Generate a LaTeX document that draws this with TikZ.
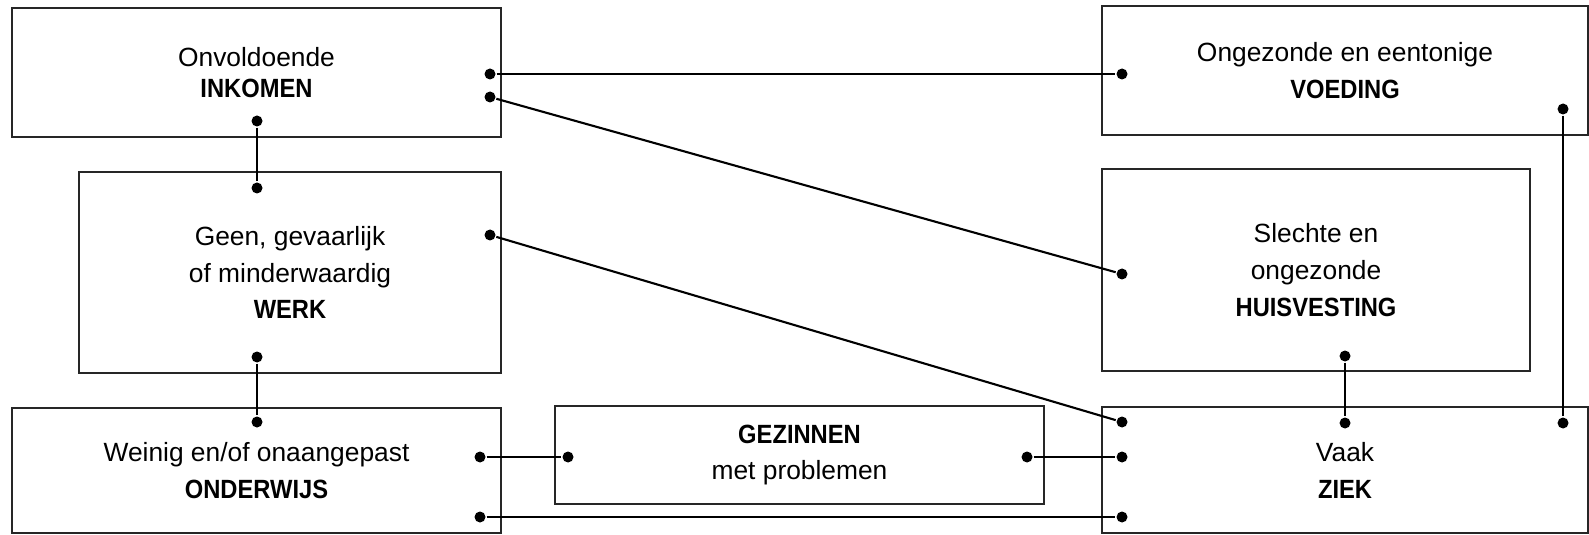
\documentclass[tikz,border=0pt]{standalone}
\usepackage{fontspec}
\setmainfont{Liberation Sans}[BoldFeatures={FakeStretch=0.9}]
\begin{document}
\begin{tikzpicture}[line width=0.6pt,
                    box/.style={rectangle,draw=black!85,align=center,inner sep=0pt,
                                font=\fontsize{7.5}{10.5}\selectfont},
                    dot/.style={circle,fill,inner sep=0pt,minimum size=1.1mm}]

        \useasboundingbox (0,0) rectangle (15.89,5.34);

        % Define boxes
        \node[box,minimum width=4.89cm,minimum height=1.29cm,font=\fontsize{7.5}{8.6}\selectfont] (I) at (2.565,4.615) {Onvoldoende\\\textbf{INKOMEN}};
        \node[box,minimum width=4.22cm,minimum height=2.01cm] (W) at (2.90,2.615) {Geen, gevaarlijk\\of minderwaardig\\\textbf{WERK}};
        \node[box,minimum width=4.89cm,minimum height=1.25cm] (O) at (2.565,0.635) {Weinig en/of onaangepast\\\textbf{ONDERWIJS}};
        \node[box,minimum width=4.89cm,minimum height=0.98cm] (G) at (7.995,0.79) {\textbf{GEZINNEN}\\met problemen};
        \node[box,minimum width=4.86cm,minimum height=1.29cm] (V) at (13.45,4.635) {Ongezonde en eentonige\\\textbf{VOEDING}};
        \node[box,minimum width=4.28cm,minimum height=2.02cm] (H) at (13.16,2.64) {Slechte en\\ongezonde\\\textbf{HUISVESTING}};
        \node[box,minimum width=4.86cm,minimum height=1.26cm] (Z) at (13.45,0.64) {Vaak\\\textbf{ZIEK}};

        % Define dots
        \node[dot] (I1) at (4.90,4.60) {};
        \node[dot] (I2) at (4.90,4.37) {};
        \node[dot] (I3) at (2.57,4.13) {};
        \node[dot] (W1) at (2.57,3.46) {};
        \node[dot] (W2) at (4.90,2.99) {};
        \node[dot] (W3) at (2.57,1.77) {};
        \node[dot] (O1) at (2.57,1.12) {};
        \node[dot] (O2) at (4.80,0.77) {};
        \node[dot] (O3) at (4.80,0.17) {};
        \node[dot] (G1) at (5.68,0.77) {};
        \node[dot] (G2) at (10.27,0.77) {};
        \node[dot] (V1) at (11.22,4.60) {};
        \node[dot] (V2) at (15.63,4.25) {};
        \node[dot] (H1) at (11.22,2.60) {};
        \node[dot] (H2) at (13.45,1.78) {};
        \node[dot] (Z1) at (11.22,1.12) {};
        \node[dot] (Z2) at (11.22,0.77) {};
        \node[dot] (Z3) at (11.22,0.17) {};
        \node[dot] (Z4) at (13.45,1.11) {};
        \node[dot] (Z5) at (15.63,1.11) {};

        % Define connections
        \draw (I1) -- (V1);
        \draw (I2) -- (H1);
        \draw (I3) -- (W1);
        \draw (W2) -- (Z1);
        \draw (W3) -- (O1);
        \draw (O2) -- (G1);
        \draw (G2) -- (Z2);
        \draw (O3) -- (Z3);
        \draw (H2) -- (Z4);
        \draw (V2) -- (Z5);
\end{tikzpicture}
\end{document}
